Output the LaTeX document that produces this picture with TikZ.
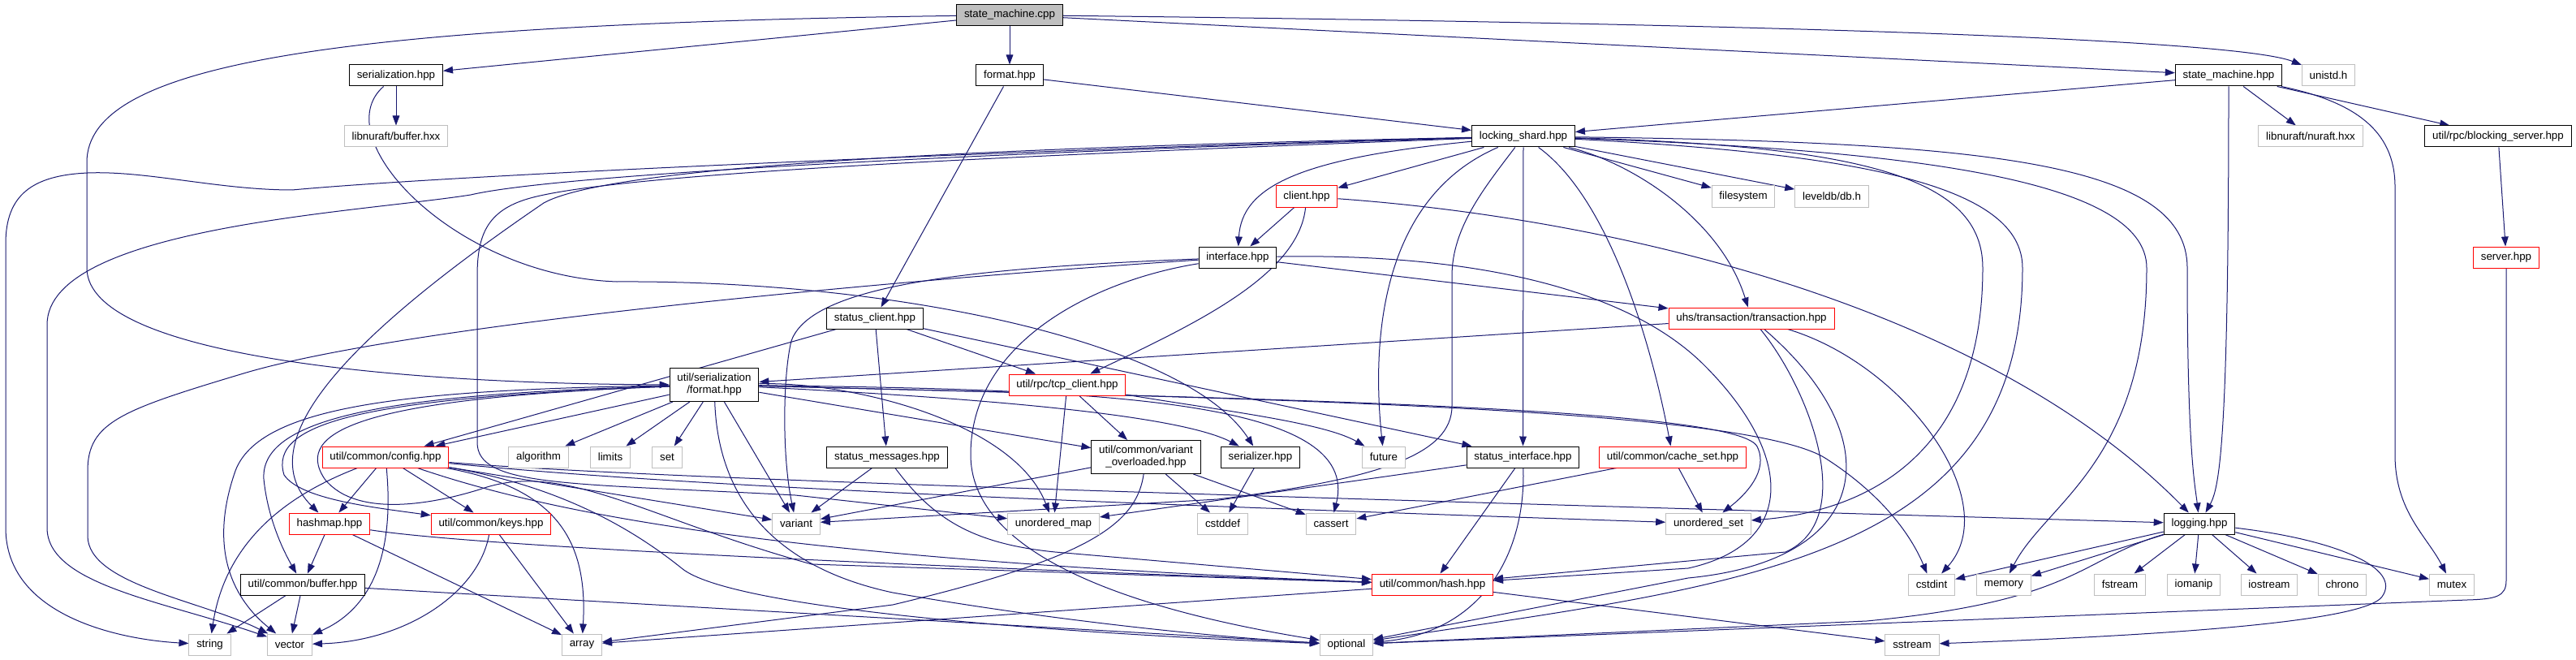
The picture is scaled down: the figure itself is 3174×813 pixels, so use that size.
\documentclass[tikz,border=0pt]{standalone}
\usepackage{fontspec}
\setmainfont{Liberation Sans}
\usetikzlibrary{arrows.meta,backgrounds}
\definecolor{edgeblue}{HTML}{191970}
\definecolor{extgrey}{HTML}{BFBFBF}
\definecolor{rootgrey}{HTML}{BFBFBF}
\tikzset{
  file/.style={draw=black,fill=white,line width=0.75pt,inner xsep=7pt,inner ysep=0pt,minimum height=19.5pt,font=\fontsize{10}{11.25}\selectfont},
  extfile/.style={file,draw=extgrey},
  redfile/.style={file,draw=red},
  rootfile/.style={file,fill=rootgrey},
  twoline/.style={align=center,minimum height=30.75pt},
  dep/.style={draw=edgeblue,line width=0.75pt,-{Triangle[length=9pt,width=6.5pt]}}
}

\begin{document}
\begin{tikzpicture}[x=0.75pt,y=-0.75pt]
    \useasboundingbox (0,0) rectangle (3174,813);
    % files
    \node[rootfile] (smcpp) at (1244,18.5) {state\_machine.cpp};
    \node[file] (ser) at (488,93) {serialization.hpp};
    \node[file] (fmt) at (1244,93) {format.hpp};
    \node[file] (smhpp) at (2746,93) {state\_machine.hpp};
    \node[extfile] (unistd) at (2869,93) {unistd.h};
    \node[extfile] (nubuf) at (488,168) {libnuraft/buffer.hxx};
    \node[file] (ls) at (1877,168) {locking\_shard.hpp};
    \node[extfile] (nuraft) at (2847,168) {libnuraft/nuraft.hxx};
    \node[file] (bsrv) at (3078,168) {util/rpc/blocking\_server.hpp};
    \node[redfile] (cli) at (1610,242) {client.hpp};
    \node[extfile] (fs) at (2148,242) {filesystem};
    \node[extfile] (ldb) at (2257,242) {leveldb/db.h};
    \node[file] (ifc) at (1525,317) {interface.hpp};
    \node[redfile] (srv) at (3088,317) {server.hpp};
    \node[file] (sc) at (1078,392) {status\_client.hpp};
    \node[redfile] (tx) at (2158,392) {uhs/transaction/transaction.hpp};
    \node[file,twoline] (usf) at (880,474) {util/serialization\\/format.hpp};
    \node[redfile] (tcp) at (1315,474) {util/rpc/tcp\_client.hpp};
    \node[redfile] (cfg) at (475,563) {util/common/config.hpp};
    \node[extfile] (algo) at (663.5,563) {algorithm};
    \node[extfile] (lim) at (752,563) {limits};
    \node[extfile] (setx) at (822,563) {set};
    \node[file] (sm) at (1093,563) {status\_messages.hpp};
    \node[file,twoline] (vo) at (1412,563) {util/common/variant\\\_overloaded.hpp};
    \node[file] (szr) at (1553,563) {serializer.hpp};
    \node[extfile] (fut) at (1705,563) {future};
    \node[file] (si) at (1876.5,563) {status\_interface.hpp};
    \node[redfile] (cs) at (2061,563) {util/common/cache\_set.hpp};
    \node[redfile] (hm) at (406,645) {hashmap.hpp};
    \node[redfile] (keys) at (605,645) {util/common/keys.hpp};
    \node[extfile] (var) at (981,645) {variant};
    \node[extfile] (umap) at (1298,645) {unordered\_map};
    \node[extfile] (cstddef) at (1506.5,645) {cstddef};
    \node[extfile] (cassert) at (1640,645) {cassert};
    \node[extfile] (uset) at (2105,645) {unordered\_set};
    \node[file] (log) at (2710,645) {logging.hpp};
    \node[file] (buf) at (373,720) {util/common/buffer.hpp};
    \node[redfile] (hash) at (1765,720) {util/common/hash.hpp};
    \node[extfile] (cstdint) at (2380,720) {cstdint};
    \node[extfile] (mem) at (2469,720) {memory};
    \node[extfile] (fstream) at (2612,720) {fstream};
    \node[extfile] (iomanip) at (2703,720) {iomanip};
    \node[extfile] (iostream) at (2796,720) {iostream};
    \node[extfile] (chrono) at (2886,720) {chrono};
    \node[extfile] (mutex) at (3021,720) {mutex};
    \node[extfile] (str) at (258.6,794) {string};
    \node[extfile] (vec) at (357,794) {vector};
    \node[extfile] (arr) at (717,794) {array};
    \node[extfile] (opt) at (1659,794) {optional};
    \node[extfile] (sstream) at (2356,794) {sstream};

    \begin{scope}[on background layer]
    \fill[white] (0,0) rectangle (3174,813);
    % includes
    \draw[dep] (smcpp) -- (ser);
    \draw[dep] (smcpp) -- (fmt);
    \draw[dep] (smcpp) -- (smhpp);
    \draw[dep] (smcpp) .. controls (2250,30) and (2760,50) .. (unistd);
    \draw[dep] (smcpp) .. controls (400,30) and (107,80) .. (107,200) -- (107,330) .. controls (107,440) and (500,473) .. (usf);
    \draw[dep] (ser) -- (nubuf);
    \draw[dep] (ser) .. controls (400,170) and (560,340) .. (760,347) .. controls (1100,345) and (1460,420) .. (szr);
    \draw[dep] (fmt) -- (ls);
    \draw[dep] (fmt) -- (sc);
    \draw[dep] (smhpp) -- (ls);
    \draw[dep] (smhpp) -- (nuraft);
    \draw[dep] (smhpp) -- (bsrv);
    \draw[dep] (smhpp.south) .. controls (2746,540) and (2735,600) .. (log);
    \draw[dep] (smhpp) .. controls (2900,125) and (2951,160) .. (2951,230) -- (2951,560) .. controls (2951,630) and (2990,660) .. (mutex);
    \draw[dep] (bsrv) -- (srv);
    \draw[dep] (srv) -- (3088,715) .. controls (3088,735) and (3075,738) .. (3040,739) -- (opt);
    \draw[dep] (ls) -- (cli);
    \draw[dep] (ls) .. controls (1600,195) and (1530,230) .. (ifc);
    \draw[dep] (ls) -- (fs);
    \draw[dep] (ls) -- (ldb);
    \draw[dep] (ls) .. controls (2010,200) and (2120,270) .. (tx);
    \draw[dep] (ls) .. controls (1710,240) and (1688,400) .. (fut);
    \draw[dep] (ls) -- (si);
    \draw[dep] (ls) .. controls (1990,250) and (2040,450) .. (cs);
    \draw[dep] (ls) .. controls (2450,175) and (2695,200) .. (2695,330) .. controls (2695,560) and (2705,600) .. (log);
    \draw[dep] (ls) .. controls (2350,185) and (2645,220) .. (2645,330) .. controls (2645,570) and (2520,620) .. (mem);
    \draw[dep] (ls) .. controls (2300,180) and (2443,220) .. (2443,330) .. controls (2443,560) and (2300,630) .. (uset);
    \draw[dep] (ls) .. controls (2300,190) and (2492,230) .. (2492,330) .. controls (2492,690) and (2150,720) .. (opt);
    \draw[dep] (ls) .. controls (1400,180) and (600,212) .. (360,234) .. controls (270,234) and (180,210) .. (108,213) .. controls (40,216) and (7,240) .. (7,300) -- (7,650) .. controls (7,760) and (150,788) .. (str);
    \draw[dep] (ls) .. controls (1300,185) and (700,212) .. (580,240) .. controls (440,262) and (58,280) .. (58,400) -- (58,650) .. controls (58,720) and (200,740) .. (vec);
    \draw[dep] (ls) .. controls (1300,180) and (760,200) .. (670,250) .. controls (450,400) and (300,540) .. (hm);
    \draw[dep] (ls) .. controls (1300,190) and (760,212) .. (650,245) .. controls (600,260) and (588,290) .. (588,340) -- (588,545) .. controls (588,600) and (700,595) .. (980,610) -- (umap);
    \draw[dep] (ls) .. controls (1830,230) and (1789,280) .. (1789,340) -- (1789,500) .. controls (1789,560) and (1700,590) .. (1500,615) -- (var);
    \draw[dep] (cli) -- (ifc);
    \draw[dep] (cli) .. controls (1600,340) and (1470,400) .. (tcp);
    \draw[dep] (cli) .. controls (2000,270) and (2450,380) .. (log);
    \draw[dep] (ifc) -- (tx);
    \draw[dep] (ifc) .. controls (1800,312) and (2000,350) .. (2100,450) .. controls (2210,560) and (2215,670) .. (2080,700) -- (hash);
    \draw[dep] (ifc) .. controls (1350,345) and (1196,420) .. (1196,560) .. controls (1196,700) and (1450,760) .. (opt);
    \draw[dep] (ifc) .. controls (1200,330) and (1000,350) .. (975,420) .. controls (965,460) and (963,560) .. (var);
    \draw[dep] (ifc) .. controls (1100,345) and (500,400) .. (300,460) .. controls (150,505) and (108,520) .. (108,580) -- (108,660) .. controls (108,720) and (250,740) .. (vec);
    \draw[dep] (tx) -- (usf);
    \draw[dep] (tx) .. controls (2230,480) and (2290,640) .. (2200,680) -- (hash);
    \draw[dep] (tx) .. controls (2330,540) and (2310,690) .. (2080,712) -- (opt);
    \draw[dep] (tx) .. controls (2350,450) and (2470,620) .. (cstdint);
    \draw[dep] (sc) -- (tcp);
    \draw[dep] (sc) -- (sm);
    \draw[dep] (sc) -- (si);
    \draw[dep] (sc) -- (cfg);
    \draw[dep] (usf) -- (cfg);
    \draw[dep] (usf) -- (algo);
    \draw[dep] (usf) -- (lim);
    \draw[dep] (usf) -- (setx);
    \draw[dep] (usf) -- (var);
    \draw[dep] (usf) -- (vo);
    \draw[dep] (usf) .. controls (1200,490) and (1450,510) .. (szr);
    \draw[dep] (usf) .. controls (1350,480) and (1680,490) .. (cassert);
    \draw[dep] (usf) .. controls (1500,490) and (2140,500) .. (2165,550) .. controls (2180,580) and (2150,610) .. (uset);
    \draw[dep] (usf) .. controls (1500,490) and (2150,500) .. (2250,565) .. controls (2320,610) and (2355,660) .. (cstdint);
    \draw[dep] (usf) .. controls (1050,470) and (1250,520) .. (umap);
    \draw[dep] (usf) .. controls (450,490) and (330,520) .. (350,585) .. controls (370,615) and (460,625) .. (keys);
    \draw[dep] (usf) .. controls (500,485) and (320,510) .. (325,590) .. controls (330,640) and (350,680) .. (buf);
    \draw[dep] (usf) .. controls (500,480) and (320,500) .. (290,580) .. controls (255,680) and (290,740) .. (vec);
    \draw[dep] (usf) .. controls (450,490) and (360,530) .. (400,590) .. controls (440,640) and (540,620) .. (600,600) .. controls (700,570) and (800,640) .. (1000,695) -- (hash);
    \draw[dep] (usf) .. controls (885,620) and (960,700) .. (1100,730) .. controls (1300,765) and (1500,785) .. (opt);
    \draw[dep] (tcp) -- (umap);
    \draw[dep] (tcp) -- (vo);
    \draw[dep] (tcp) .. controls (1500,505) and (1630,520) .. (fut);
    \draw[dep] (vo) -- (var);
    \draw[dep] (vo) -- (cstddef);
    \draw[dep] (vo) -- (cassert);
    \draw[dep] (vo) .. controls (1400,650) and (1330,690) .. (1100,745) -- (arr);
    \draw[dep] (szr) -- (cstddef);
    \draw[dep] (sm) -- (var);
    \draw[dep] (sm) .. controls (1150,640) and (1200,670) .. (1300,680) -- (hash);
    \draw[dep] (si) -- (hash);
    \draw[dep] (si) .. controls (1880,690) and (1820,780) .. (opt);
    \draw[dep] (si) -- (umap);
    \draw[dep] (cs) -- (uset);
    \draw[dep] (cs) -- (cassert);
    \draw[dep] (cfg) -- (hm);
    \draw[dep] (cfg) -- (keys);
    \draw[dep] (cfg) .. controls (380,600) and (280,650) .. (str);
    \draw[dep] (cfg) .. controls (482,640) and (480,740) .. (vec);
    \draw[dep] (cfg) .. controls (680,600) and (725,660) .. (arr);
    \draw[dep] (cfg) -- (var);
    \draw[dep] (cfg) .. controls (800,595) and (1200,615) .. (uset);
    \draw[dep] (cfg) .. controls (800,590) and (1500,610) .. (log);
    \draw[dep] (cfg) .. controls (700,640) and (1000,690) .. (hash);
    \draw[dep] (cfg) .. controls (700,600) and (790,660) .. (840,700) .. controls (900,750) and (1300,780) .. (opt);
    \draw[dep] (hm) -- (buf);
    \draw[dep] (hm) -- (arr);
    \draw[dep] (hm) .. controls (600,675) and (1200,700) .. (hash);
    \draw[dep] (keys) .. controls (590,730) and (500,790) .. (vec);
    \draw[dep] (keys) -- (arr);
    \draw[dep] (buf) -- (str);
    \draw[dep] (buf) -- (vec);
    \draw[dep] (buf) -- (opt);
    \draw[dep] (log) -- (cstdint);
    \draw[dep] (log) -- (mem);
    \draw[dep] (log) -- (fstream);
    \draw[dep] (log) -- (iomanip);
    \draw[dep] (log) -- (iostream);
    \draw[dep] (log) -- (chrono);
    \draw[dep] (log) -- (mutex);
    \draw[dep] (log) .. controls (2880,665) and (2960,700) .. (2935,735) .. controls (2910,770) and (2600,785) .. (sstream);
    \draw[dep] (log) .. controls (2560,690) and (2560,740) .. (2300,765) -- (opt);
    \draw[dep] (hash) -- (arr);
    \draw[dep] (hash) -- (sstream);
    \end{scope}
\end{tikzpicture}
\end{document}
